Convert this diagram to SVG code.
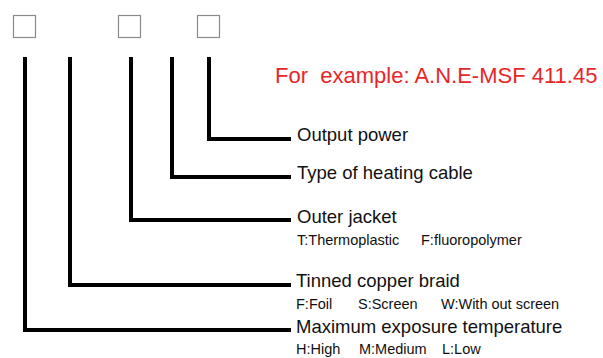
<svg xmlns="http://www.w3.org/2000/svg" width="603" height="358" viewBox="0 0 603 358">
<style>
.box{fill:#fff;stroke:#8a8a8a;stroke-width:1.2}
.ln{fill:none;stroke:#000;stroke-width:4;stroke-linejoin:miter;stroke-linecap:butt}
.t{font-family:"Liberation Sans",Arial,sans-serif;font-size:18.5px;fill:#111}
.s{font-family:"Liberation Sans",Arial,sans-serif;font-size:14.5px;fill:#111}
.r{font-family:"Liberation Sans",Arial,sans-serif;font-size:22px;fill:#e8262a;white-space:pre}
</style>
<rect width="603" height="358" fill="#fff"/>
<g id="box1"><rect class="box" x="13.5" y="15.5" width="22" height="22"/></g>
<g id="box2"><rect class="box" x="118.5" y="15.5" width="22" height="22"/></g>
<g id="box3"><rect class="box" x="197.5" y="15.5" width="22" height="22"/></g>
<g id="example"><text class="r" x="275" y="83" xml:space="preserve">For  example: A.N.E-MSF 411.45</text></g>
<g id="connectors">
<path class="ln" d="M209,57 V139 H291"/>
<path class="ln" d="M172,57 V177 H291"/>
<path class="ln" d="M131,57 V220 H291"/>
<path class="ln" d="M70,57 V285 H291"/>
<path class="ln" d="M25,57 V330 H291"/>
</g>
<g id="output-power"><text class="t" x="297" y="141">Output power</text></g>
<g id="heating-cable"><text class="t" x="297" y="179">Type of heating cable</text></g>
<g id="outer-jacket"><text class="t" x="297" y="223">Outer jacket</text>
<text class="s" x="297" y="245">T:Thermoplastic</text><text class="s" x="421" y="245">F:fluoropolymer</text></g>
<g id="tinned-braid"><text class="t" x="296" y="287">Tinned copper braid</text>
<text class="s" x="296" y="309">F:Foil</text><text class="s" x="358" y="309">S:Screen</text><text class="s" x="441" y="309">W:With out screen</text></g>
<g id="max-temp"><text class="t" x="296" y="333">Maximum exposure temperature</text>
<text class="s" x="296" y="354">H:High</text><text class="s" x="359" y="354">M:Medium</text><text class="s" x="442" y="354">L:Low</text></g>
</svg>
